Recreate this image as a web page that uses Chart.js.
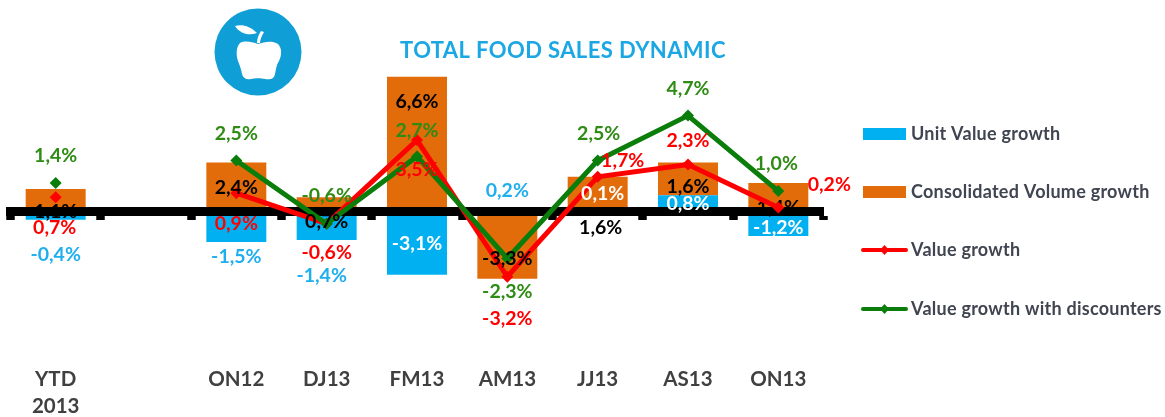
<!DOCTYPE html>
<html>
<head>
<meta charset="utf-8">
<style>
  html, body { margin: 0; padding: 0; background: #fff; }
  #wrap { position: relative; width: 1165px; height: 417px; overflow: hidden; }
  #logo { position: absolute; left: 214px; top: 8px; width: 88px; height: 88px; }
</style>
</head>
<body>
<div id="wrap">
  <canvas id="chart" width="1165" height="417"></canvas>
  <svg id="logo" viewBox="0 0 88 88">
    <circle cx="44" cy="44" r="43.5" fill="#0F9FD6"/>
    <path fill="#fff" d="M26 35 C31 32 38 34 44 36 C50 34 58 32 64 36 C68 40 68 47 65 53 C62 58 62 62 61 66 C60 71 56 72 51 71 C47 70 41 70 37 71 C32 72 29 70 28 66 C27 61 26 58 24 53 C22 47 22 39 26 35 Z"/>
    <path fill="#fff" d="M43 35 C43 30 45 26 47 23 L50 24 C48 28 46 31 46 35 Z"/>
    <path fill="#fff" d="M21 18 C28 16 36 18 43 25 C35 28 26 26 21 18 Z"/>
  </svg>
</div>
<script src="https://cdn.jsdelivr.net/npm/chart.js@4"></script>
<script>
/* ── data ── */
const categories = [['YTD', '2013'], '', 'ON12', 'DJ13', 'FM13', 'AM13', 'JJ13', 'AS13', 'ON13'];
const unitValue   = [-0.4, null, -1.5, -1.4, -3.1,  0.2, 0.1, 0.8, -1.2];
const consVolume  = [ 1.1, null,  2.4,  0.7,  6.6, -3.3, 1.6, 1.6,  1.4];
const valueGrowth = [ 0.7, null,  0.9, -0.6,  3.5, -3.2, 1.7, 2.3,  0.2];
const valueDisc   = [ 1.4, null,  2.5, -0.6,  2.7, -2.3, 2.5, 4.7,  1.0];

/* ── label placement: [dx, dy] from category centre / zero line ── */
const unitLabelPos  = [[0, 43], null, [0, 45], [-5, 64], [0, 32], [0, -21], [5, -18], [0, -8], [0, 16]];
const consLabelPos  = [[0, 0], null, [0, -24], [0, 10], [0, -110], [0, 47], [3, 16], [0, -25], [0, -4]];
const valueLabelPos = [[-1, 16], null, [0, 12], [0, 41], [0, -42], [0, 107], [25, -51], [0, -71], [51, -27]];
const discLabelPos  = [[0, -56], null, [0, -78], [0, -16], [0, -81], [0, 80], [1, -78], [0, -123], [-2, -48]];

const FONT = 'Lato, "Open Sans", sans-serif';
const BLUE = '#00B0F0', ORANGE = '#E36C0A', RED = '#FF0000', GREEN = '#0A7D0A';
const BEHIND_AXIS = [0, 8];   // these two volume labels sit under the axis line
const WHITE_UNIT = [4, 6, 7, 8];

function fmt(v) { return v.toFixed(1).replace('.', ',') + '%'; }

function drawLabels(chart, values, pos, color, keep) {
  const { ctx, scales: { x, y } } = chart;
  ctx.save();
  ctx.font = 'bold 19.5px ' + FONT;
  ctx.textAlign = 'center';
  ctx.textBaseline = 'middle';
  values.forEach((v, i) => {
    if (v === null || (keep && !keep(i))) return;
    ctx.fillStyle = typeof color === 'function' ? color(i) : color;
    ctx.fillText(fmt(v), x.getPixelForValue(i) + pos[i][0], y.getPixelForValue(0) + pos[i][1]);
  });
  ctx.restore();
}

/* 軸線要壓在長條上、折線之下，所以在畫折線前再畫一次 */
const overlay = {
  id: 'overlay',
  beforeDatasetDraw(chart, args) {
    if (args.index !== 2) return;
    drawLabels(chart, consVolume, consLabelPos, '#000', i => BEHIND_AXIS.includes(i));
    chart.scales.x.drawBorder();
    chart.scales.x.drawGrid(chart.chartArea);
  },
  afterDatasetsDraw(chart) {
    drawLabels(chart, valueGrowth, valueLabelPos, '#FF0000');
    drawLabels(chart, valueDisc, discLabelPos, '#2E8B14');
    drawLabels(chart, consVolume, consLabelPos, '#000', i => !BEHIND_AXIS.includes(i));
    drawLabels(chart, unitValue, unitLabelPos, i => WHITE_UNIT.includes(i) ? '#fff' : '#1FAEEE');
  },
  afterDraw(chart) {
    const { ctx } = chart;
    ctx.save();
    ctx.textBaseline = 'middle';
    ctx.textAlign = 'center';
    ctx.font = 'bold 22px ' + FONT;
    ctx.letterSpacing = '0.4px';
    ctx.fillStyle = '#1AA7E4';
    ctx.fillText('TOTAL FOOD SALES DYNAMIC', 563, 51);

    const rows = [134, 192, 250, 309];
    chart.data.datasets.forEach((ds, i) => {
      const ry = rows[i];
      if (ds.type === 'bar') {
        ctx.fillStyle = ds.backgroundColor;
        ctx.fillRect(863, ry - 6, 43, 12);
      } else {
        ctx.strokeStyle = ds.borderColor;
        ctx.lineWidth = 4;
        ctx.lineCap = 'round';
        ctx.beginPath(); ctx.moveTo(863, ry); ctx.lineTo(906, ry); ctx.stroke();
        ctx.fillStyle = ds.borderColor;
        ctx.beginPath();
        ctx.moveTo(884.5, ry - 5); ctx.lineTo(889, ry); ctx.lineTo(884.5, ry + 5); ctx.lineTo(880, ry);
        ctx.closePath(); ctx.fill();
      }
      ctx.textAlign = 'left';
      ctx.font = 'bold 18px ' + FONT;
      ctx.letterSpacing = '0.25px';
      ctx.fillStyle = '#404552';
      ctx.fillText(ds.label, 911, ry);
    });
    ctx.restore();
  },
};

new Chart(document.getElementById('chart'), {
  data: {
    labels: categories,
    datasets: [
      { type: 'bar', label: 'Unit Value growth', data: unitValue, stack: 'a', order: 3,
        backgroundColor: BLUE, barPercentage: 0.664, categoryPercentage: 1 },
      { type: 'bar', label: 'Consolidated Volume growth', data: consVolume, stack: 'a', order: 4,
        backgroundColor: ORANGE, barPercentage: 0.664, categoryPercentage: 1 },
      { type: 'line', label: 'Value growth', data: valueGrowth, order: 2,
        borderColor: RED, backgroundColor: RED, borderWidth: 5, tension: 0,
        pointStyle: 'rectRot', pointRadius: 6, pointBackgroundColor: RED, pointBorderWidth: 0 },
      { type: 'line', label: 'Value growth with discounters', data: valueDisc, order: 1,
        borderColor: GREEN, backgroundColor: GREEN, borderWidth: 5, tension: 0,
        pointStyle: 'rectRot', pointRadius: 6, pointBackgroundColor: GREEN, pointBorderWidth: 0 },
    ],
  },
  plugins: [overlay],
  options: {
    responsive: false, animation: false,
    layout: { padding: { left: 10.5, right: 341.5, top: 68.7, bottom: 52.5 } },
    plugins: { legend: { display: false }, tooltip: { enabled: false }, title: { display: false } },
    scales: {
      x: {
        position: { y: 0 },
        afterFit: s => { s.height = 0; s.paddingLeft = 0; s.paddingRight = 0; },
        border: { color: '#000', width: 9 },
        grid: { drawOnChartArea: false, offset: true, tickColor: '#000', tickWidth: 8, tickLength: 4 },
        ticks: {
          color: '#404040', padding: 150, maxRotation: 0, autoSkip: false,
          font: { family: FONT, size: 20.5, weight: 'bold', lineHeight: 1.32 },
        },
      },
      y: { display: false, min: -7.5, max: 7 },
    },
  },
});
</script>
</body>
</html>
